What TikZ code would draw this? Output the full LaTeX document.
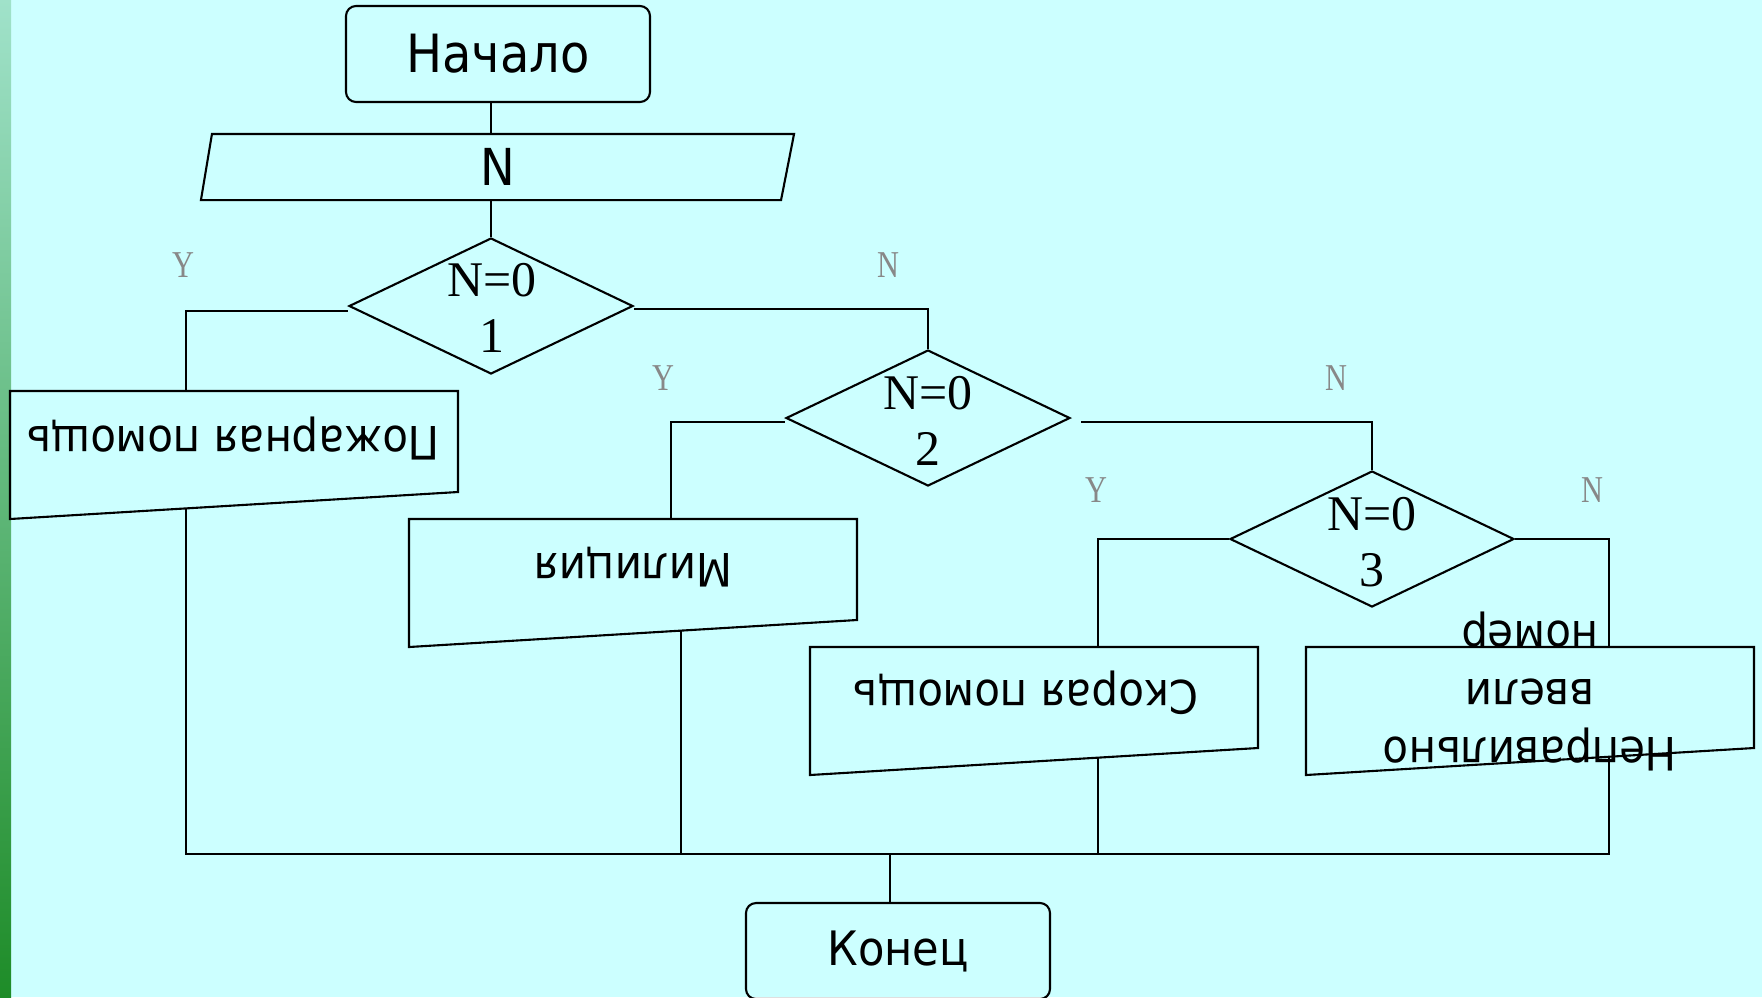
\documentclass[tikz,border=0pt]{standalone}
\usepackage{fontspec}
\usepackage{graphicx}
\setmainfont{DejaVu Sans}[FakeStretch=0.91]
\newfontfamily\condserif{Liberation Serif}
\newfontfamily\labserif{Liberation Serif}[FakeStretch=0.8]
\usetikzlibrary{shapes.geometric,positioning,calc}
\definecolor{slidebg}{HTML}{CCFFFF}
\definecolor{striptop}{HTML}{A0E2CA}
\definecolor{stripbot}{HTML}{1E8C28}
\definecolor{labgray}{HTML}{888888}
\tikzset{every picture/.style={line width=0.6pt}}

\begin{document}
\begin{tikzpicture}[x=0.1mm,y=-0.1mm,
    terminal/.style={draw, rectangle, rounded corners=1mm, minimum width=30.4mm, minimum height=9.6mm, font=\fontsize{13.5}{16}\selectfont},
    decision/.style={draw, diamond, inner sep=0pt, minimum width=28.4mm, minimum height=13.6mm},
    condtext/.style={align=center, inner sep=0pt, font=\condserif\fontsize{14.2}{16}\selectfont},
    outtext/.style={inner sep=0pt, font=\fontsize{13.1}{16.5}\selectfont},
    yn/.style={text=labgray, inner sep=0pt, font=\labserif\fontsize{10.8}{12}\selectfont},
    link/.style={line width=0.5pt}]
    % Slide background
    \useasboundingbox (0,0) rectangle (1762,997);
    \fill[slidebg] (0,0) rectangle (1762,997);
    \shade[top color=striptop, bottom color=stripbot] (0,0) rectangle (11,997);

    % Start and input
    \node[terminal, font=\fontsize{15}{17}\selectfont] (start) at (498,54) {Начало};
    \node[minimum width=59.1mm, minimum height=6.4mm, inner sep=0pt, font=\fontsize{14.5}{16}\selectfont] (inp) at (497.5,167) {N};
    \draw ([xshift=1.1mm]inp.north west) -- (inp.north east) -- ([xshift=-1.3mm]inp.south east) -- (inp.south west) -- cycle;

    % Conditions
    \node[decision] (d1) at (491,306) {};
    \node[decision] (d2) at (928,418) {};
    \node[decision] (d3) at (1372,539) {};
    \node[condtext] (c1) at (492,308) {N=0\\1};
    \node[condtext] (c2) at (928,421) {N=0\\2};
    \node[condtext] (c3) at (1372,542) {N=0\\3};

    % Branch labels
    \node[yn] (y1) at (183,265) {Y};
    \node[yn] (n1) at (888,265) {N};
    \node[yn] (y2) at (663,378) {Y};
    \node[yn] (n2) at (1336,378) {N};
    \node[yn] (y3) at (1096,490) {Y};
    \node[yn] (n3) at (1592,490) {N};

    % Output boxes
    \foreach \x/\y in {10/391, 409/519, 810/647, 1306/647}
        \draw (\x,\y) -- ++(448,0) -- ++(0,101) -- ++(-448,27) -- cycle;
    \node[outtext] (fire) at (233,438) {\rotatebox{180}{Пожарная помощь}};
    \node[outtext] (police) at (633,567) {\rotatebox{180}{Милиция}};
    \node[outtext] (ambul) at (1026,693) {\rotatebox{180}{Скорая помощь}};
    \node[outtext] (wrong) at (1530,691) {\rotatebox{180}{\begin{tabular}{@{}c@{}}Неправильно\\ввели\\номер\end{tabular}}};

    \coordinate (firein) at (186,391);
    \coordinate (fireout) at (186,508);
    \coordinate (policein) at (671,519);
    \coordinate (policeout) at (681,630);
    \coordinate (ambulin) at (1098,647);
    \coordinate (ambulout) at (1098,757);
    \coordinate (wrongin) at (1609,647);
    \coordinate (wrongout) at (1609,756);
    \coordinate (bus) at (890,854);

    % End
    \node[terminal] (finish) at (898,951) {Конец};

    % Connectors
    \draw[link] (start.south -| d1.north) -- (inp.north -| d1.north);
    \draw[link] (inp.south -| d1.north) -- (d1.north);
    \draw[link] ([yshift=-0.5mm]d1.west) -| (firein);
    \draw[link] ([yshift=-0.3mm]d1.east) -| (d2.north);
    \draw[link] ([yshift=-0.4mm]d2.west) -| (policein);
    \draw[link] ([xshift=1mm,yshift=-0.4mm]d2.east) -| (d3.north);
    \draw[link] (d3.west) -| (ambulin);
    \draw[link] (d3.east) -| (wrongin);
    \draw[link] (fireout) -- (fireout |- bus) -- (wrongout |- bus) -- (wrongout);
    \draw[link] (policeout) -- (policeout |- bus);
    \draw[link] (ambulout) -- (ambulout |- bus);
    \draw[link] (bus) -- (bus |- finish.north);
\end{tikzpicture}
\end{document}
